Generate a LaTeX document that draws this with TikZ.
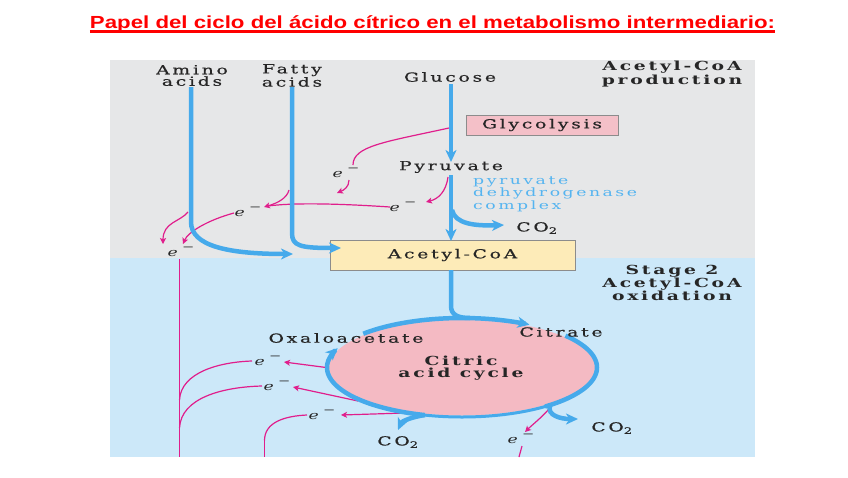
\documentclass[tikz,border=0pt]{standalone}
\usepackage{fontspec}
\usepackage{graphicx}
\usetikzlibrary{arrows.meta}
\newfontfamily\ff{DejaVu Serif}[LetterSpace=22,FakeStretch=1.5]
\newfontfamily\ffr{DejaVu Serif}[LetterSpace=22,FakeStretch=1.5,FakeBold=0.5]
\newfontfamily\tf{Liberation Sans}
\definecolor{panelgray}{HTML}{E6E7E8}
\definecolor{panelblue}{HTML}{CCE8F9}
\definecolor{arrowblue}{HTML}{46AAEB}
\definecolor{textblue}{HTML}{55B4F0}
\definecolor{magline}{HTML}{E01E8C}
\definecolor{glypink}{HTML}{F4C0C8}
\definecolor{cyclepink}{HTML}{F4BAC3}
\definecolor{acoayellow}{HTML}{FDEBB8}
\definecolor{boxborder}{HTML}{8C8C8C}
\definecolor{txtgray}{HTML}{262626}
\newcommand{\elec}{\textit{e}\,\raisebox{0.5em}{\scalebox{0.85}{−}}}
\begin{document}
\begin{tikzpicture}[x=1pt,y=-1pt,
  barrow/.style={draw=arrowblue, line width=4.5pt, -{Stealth[length=12pt,width=11pt,inset=3.5pt]}},
  bline/.style={draw=arrowblue, line width=4.5pt},
  mag/.style={draw=magline, line width=1.2pt},
  magarrow/.style={mag, -{Stealth[length=6pt,width=6pt,inset=1.5pt]}},
  lab/.style={font=\ffr\fontsize{12.5}{11.5}\selectfont, text=txtgray, inner sep=0pt, align=center},
  blab/.style={font=\ff\bfseries\fontsize{12.5}{11.5}\selectfont, text=txtgray, inner sep=0pt, align=center},
  elab/.style={font=\ff\fontsize{11.5}{12}\selectfont, text=txtgray, inner sep=0pt},
  boxnode/.style={draw=boxborder, line width=0.8pt, inner sep=0pt, font=\ffr\fontsize{12.5}{11}\selectfont, text=txtgray},
]
\useasboundingbox (0,0) rectangle (848,477);
\fill[white] (0,0) rectangle (848,477);

% panels
\fill[panelgray] (110,60) rectangle (755,258);
\fill[panelblue] (110,258) rectangle (755,457);

% title
\node[anchor=base, text=red, font=\tf\bfseries\fontsize{17.5}{17.5}\selectfont, inner sep=0pt] (title) at (432.5,28)
  {\resizebox{685pt}{\height}{Papel del ciclo del ácido cítrico en el metabolismo intermediario:}};
\draw[red, line width=2.4pt] ([yshift=-3.5pt]title.base west) -- ([yshift=-3.5pt]title.base east);

% boxes
\node[boxnode, fill=glypink, minimum width=152pt, minimum height=20pt] (glyco) at (542,125) {Glycolysis};
\node[boxnode, fill=acoayellow, minimum width=245pt, minimum height=30pt] (acoa) at (452.5,255) {Acetyl-CoA};

% magenta electron lines
\draw[mag] (449,128) .. controls (385,142) and (353,146) .. (353,165);
\draw[magarrow] (349,180) .. controls (349,187) and (344,190) .. (337,193);
\draw[magarrow] (448,177) .. controls (446,192) and (438,199) .. (426,202);
\draw[mag] (390,207) .. controls (330,203) and (290,203) .. (268,206);
\draw[magarrow] (289,190) .. controls (287,198) and (278,203) .. (264,207);
\draw[magarrow] (234,213) .. controls (208,220) and (188,232) .. (183,244);
\draw[magarrow] (188,212) .. controls (180,222) and (163,222) .. (163,244);
\coordinate (vtop) at (179.5,259);
\coordinate (vbot) at (179.5,457);
\fill[magline] ([xshift=-0.8pt]vtop) rectangle ([xshift=0.8pt]vbot);
\draw[mag] (179.5,400) .. controls (181,372) and (220,362) .. (252,361);
\draw[mag] (179.5,428) .. controls (181,398) and (222,387) .. (262,386);
\fill[magline] (263.7,440) rectangle (265.3,457);
\draw[mag] (264.5,440.5) .. controls (264.5,422) and (285,416) .. (307,415);
\draw[magarrow] (330,368) -- (284,362);
\draw[magarrow] (358,401) -- (293,387);
\draw[magarrow] (405,413) -- (341,415);
\draw[magarrow] (549,409) .. controls (540,419) and (532,425) .. (525,432);
\draw[mag] (522,446) -- (519,457);

% cycle
\fill[cyclepink] (462,367.5) ellipse [x radius=133, y radius=48];

% blue flows
\draw[barrow] (191,87) -- (191,222) .. controls (191,246) and (228,254) .. (293,254);
\draw[barrow] (292,87) -- (292,233) .. controls (292,246) and (300,248) .. (341,248);
\draw[barrow] (451,84) -- (451,162);
\draw[barrow] (451,175) -- (451,241);
\draw[barrow] (452,210) .. controls (455,224) and (475,226) .. (504,225);
\draw[bline] (451,270) -- (451,306) .. controls (451,315) and (458,318) .. (470,318);
\draw[barrow] plot[domain=-137:-60,samples=40,variable=\t] ({462+135*cos(\t)},{367.5+49.5*sin(\t)});
\draw[bline] plot[domain=-40:52,samples=40,variable=\t] ({462+135*cos(\t)},{367.5+49.5*sin(\t)});
\draw[bline, line width=3pt] plot[domain=50:108,samples=30,variable=\t] ({462+135*cos(\t)},{367.5+49.5*sin(\t)});
\draw[barrow] plot[domain=106:203,samples=40,variable=\t] ({462+135*cos(\t)},{367.5+49.5*sin(\t)});
\draw[barrow] (550,406) .. controls (547,415) and (560,419) .. (578,419);
\draw[barrow] (425,415) .. controls (412,417) and (402,421) .. (398,430);

% labels
\node[lab] (amino) at (192,75.5) {Amino\\acids};
\node[lab] (fatty) at (292,75.5) {Fatty\\acids};
\node[lab] (glucose) at (450,77) {Glucose};
\node[blab] (stage1) at (672,74) {Acetyl-CoA\\production};
\node[lab] (pyr) at (451,167) {Pyruvate};
\node[lab, text=textblue, align=left, anchor=west, font=\ff\fontsize{11.5}{10.5}\selectfont] (pdh) at (473,194) {pyruvate\\dehydrogenase\\complex};
\node[lab] (co2a) at (537,228) {CO\textsubscript{2}};
\node[blab] (stage2) at (672,283) {Stage 2\\Acetyl-CoA\\oxidation};
\node[lab] (oxa) at (346,338) {Oxaloacetate};
\node[lab] (cit) at (561,332) {Citrate};
\node[blab] (cac) at (461,368) {Citric\\acid cycle};
\node[lab] (co2b) at (398,442) {CO\textsubscript{2}};
\node[lab] (co2c) at (612,428) {CO\textsubscript{2}};

\node[elab] (e1) at (346,173) {\elec};
\node[elab] (e2) at (403,207) {\elec};
\node[elab] (e3) at (248,212) {\elec};
\node[elab] (e4) at (181,252) {\elec};
\node[elab] (e5) at (268,361) {\elec};
\node[elab] (e6) at (277,386) {\elec};
\node[elab] (e7) at (322,415) {\elec};
\node[elab] (e8) at (521,439) {\elec};
\end{tikzpicture}
\end{document}
